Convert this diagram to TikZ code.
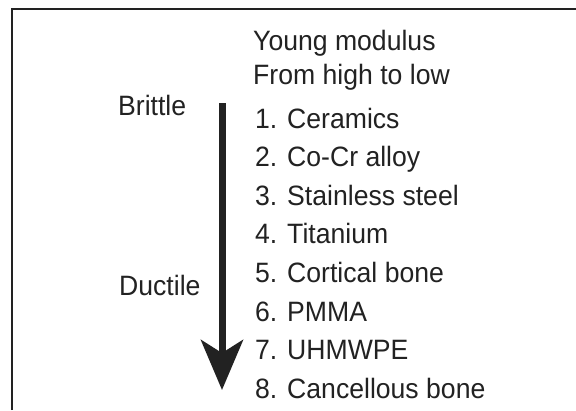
\documentclass[tikz,border=0pt]{standalone}
\usepackage{fontspec}
\setmainfont{Liberation Sans}[FakeStretch=0.95]
\usetikzlibrary{arrows.meta}
\definecolor{ink}{HTML}{222222}
\begin{document}
\begin{tikzpicture}[x=1pt,y=-1pt,
  txt/.style={anchor=base west,inner sep=0pt,text=ink,font=\fontsize{28}{30}\selectfont},
  frame/.style={line width=2pt,ink},
  bigarrow/.style={line width=7pt,ink,-{Stealth[length=50pt,width=42pt,inset=13pt]}}]
\useasboundingbox (0,0) rectangle (576,410);
\fill[white] (0,0) rectangle (576,410);
\draw[frame] (12,410) -- (12,9) -- (576,9);
\node[txt] (t1) at (253,50) {Young modulus};
\node[txt] (t2) at (253,84) {From high to low};
\node[txt] (i1) at (255,128) {1. Ceramics};
\node[txt] (i2) at (255,166.6) {2. Co-Cr alloy};
\node[txt] (i3) at (255,205.2) {3. Stainless steel};
\node[txt] (i4) at (255,243.8) {4. Titanium};
\node[txt] (i5) at (255,282.4) {5. Cortical bone};
\node[txt] (i6) at (255,321) {6. PMMA};
\node[txt] (i7) at (255,359.6) {7. UHMWPE};
\node[txt] (i8) at (255,398.2) {8. Cancellous bone};
\node[txt] (brittle) at (118,115) {Brittle};
\node[txt] (ductile) at (119,295) {Ductile};
\coordinate (atop) at (222,103);
\coordinate (atip) at (222,390);
\draw[bigarrow] (atop) -- (atip);
\end{tikzpicture}
\end{document}
